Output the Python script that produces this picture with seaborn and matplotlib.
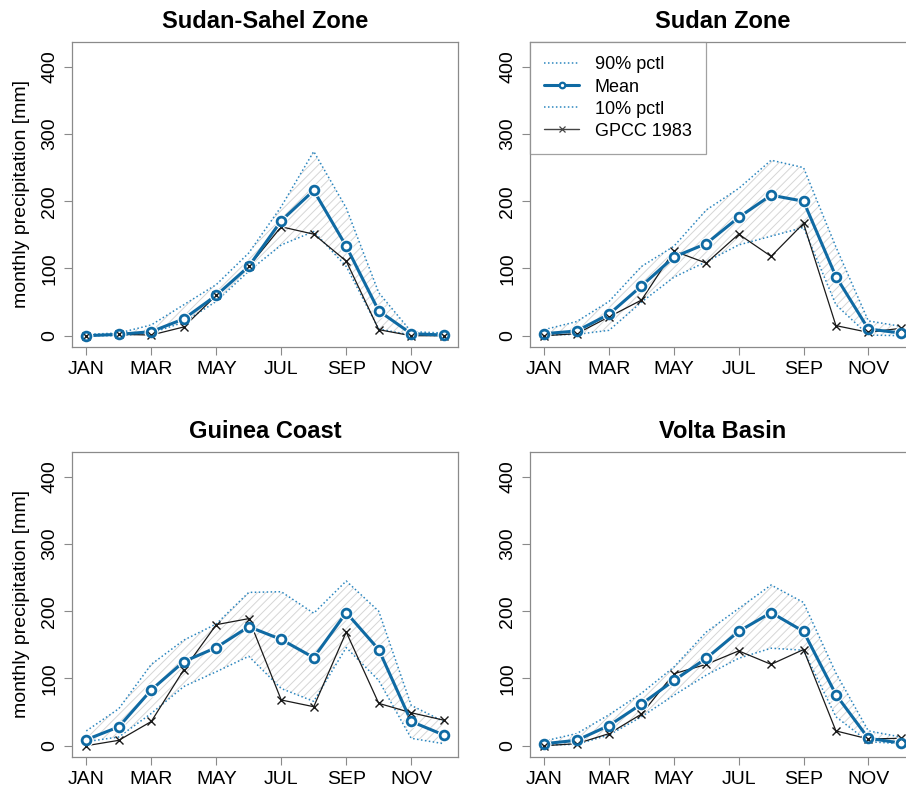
import numpy as np
import pandas as pd
import matplotlib
matplotlib.use("Agg")
import matplotlib.pyplot as plt
from matplotlib.lines import Line2D
import seaborn as sns

months = ["JAN", "FEB", "MAR", "APR", "MAY", "JUN", "JUL", "AUG", "SEP", "OCT", "NOV", "DEC"]
tick_months = ["JAN", "MAR", "MAY", "JUL", "SEP", "NOV"]
yticks = [0, 100, 200, 300, 400]

titles = ["Sudan-Sahel Zone", "Sudan Zone", "Guinea Coast", "Volta Basin"]

# Sudan-Sahel Zone
ss_mean = [0, 2, 6, 25, 60, 103, 171, 216, 133, 37, 3, 1]
ss_gpcc = [0, 2, 1, 13, 60, 103, 162, 151, 111, 9, 0, 0]
ss_p90 = [2, 4, 16, 46, 76, 123, 192, 274, 190, 64, 6, 4]
ss_p10 = [0, 0, 4, 20, 51, 96, 135, 155, 103, 10, 1, 0]

# Sudan Zone
sz_mean = [3, 7, 32, 74, 117, 137, 176, 209, 200, 88, 10, 4]
sz_gpcc = [0, 3, 28, 53, 126, 108, 151, 118, 167, 15, 5, 11]
sz_p90 = [9, 21, 51, 103, 133, 187, 219, 261, 250, 132, 22, 14]
sz_p10 = [1, 2, 8, 50, 87, 110, 135, 148, 161, 46, 1, 0]

# Guinea Coast
gc_mean = [9, 28, 83, 125, 146, 177, 158, 131, 198, 143, 36, 16]
gc_gpcc = [0, 8, 36, 113, 180, 189, 68, 58, 169, 63, 49, 38]
gc_p90 = [22, 55, 121, 157, 181, 228, 229, 197, 245, 200, 60, 36]
gc_p10 = [6, 13, 48, 88, 110, 133, 85, 66, 146, 97, 11, 3]

# Volta Basin
vb_mean = [3, 8, 30, 62, 97, 130, 170, 198, 170, 76, 11, 4]
vb_gpcc = [0, 3, 18, 47, 107, 121, 141, 121, 143, 22, 10, 11]
vb_p90 = [7, 18, 46, 78, 117, 169, 204, 239, 213, 108, 22, 13]
vb_p10 = [1, 2, 16, 43, 75, 105, 130, 145, 142, 43, 6, 3]

panels = [
    (ss_mean, ss_gpcc, ss_p90, ss_p10),
    (sz_mean, sz_gpcc, sz_p90, sz_p10),
    (gc_mean, gc_gpcc, gc_p90, gc_p10),
    (vb_mean, vb_gpcc, vb_p90, vb_p10),
]

sns.set_theme(style="white")
plt.rcParams["font.family"] = ["Liberation Sans", "DejaVu Sans"]
plt.rcParams["hatch.color"] = "#d6d6d6"
plt.rcParams["hatch.linewidth"] = 0.7
for k in ["text.color", "axes.labelcolor", "xtick.color", "ytick.color", "axes.titlecolor"]:
    plt.rcParams[k] = "black"

MEAN_C = "#0f6aa3"
PCT_C = "#2b86bf"
GPCC_C = "#1a1a1a"
SPINE_C = "#8a8a8a"
DOT = (0, (1.0, 1.6))

W, H = 906, 787
fig = plt.figure(figsize=(W / 100, H / 100), dpi=100)

# axes boxes in pixels: left, top, right, bottom
boxes = [
    (72, 42, 458, 347),
    (530, 42, 915, 347),
    (72, 452, 458, 757),
    (530, 452, 915, 757),
]

x = np.arange(12)

for i, (box, data, title) in enumerate(zip(boxes, panels, titles)):
    l, t, r, b = box
    ax = fig.add_axes([l / W, 1 - b / H, (r - l) / W, (b - t) / H])
    mean, gpcc, p90, p10 = data
    df = pd.DataFrame({"month": x, "mean": mean, "gpcc": gpcc, "p90": p90, "p10": p10})

    ax.fill_between(df["month"], df["p10"], df["p90"], facecolor="none",
                    edgecolor="#d6d6d6", hatch="////", linewidth=0, zorder=1)

    sns.lineplot(data=df, x="month", y="p90", ax=ax, color=PCT_C, linestyle=DOT,
                 linewidth=1.1, zorder=2)
    sns.lineplot(data=df, x="month", y="p10", ax=ax, color=PCT_C, linestyle=DOT,
                 linewidth=1.1, zorder=2)
    sns.lineplot(data=df, x="month", y="gpcc", ax=ax, color=GPCC_C, linewidth=0.9,
                 zorder=3)
    sns.lineplot(data=df, x="month", y="mean", ax=ax, color=MEAN_C, linewidth=2.2,
                 zorder=4)
    # gap around mean points (R type="b")
    ax.plot(df["month"], df["mean"], linestyle="none", marker="o", markersize=10,
            markerfacecolor="white", markeredgecolor="white", markeredgewidth=0, zorder=5)
    sns.lineplot(data=df, x="month", y="gpcc", ax=ax, color=GPCC_C, linewidth=0,
                 marker="x", markersize=6, markeredgewidth=1.0, markeredgecolor=GPCC_C,
                 zorder=6)
    ax.plot(df["month"], df["mean"], linestyle="none", marker="o", markersize=6.3,
            markerfacecolor="none", markeredgecolor=MEAN_C, markeredgewidth=2.0, zorder=7)

    ax.set_xlim(-0.44, 11.44)
    ax.set_ylim(-16.8, 436.8)
    ax.set_xticks([0, 2, 4, 6, 8, 10])
    ax.set_xticklabels(tick_months, fontsize=14)
    ax.set_yticks(yticks)
    ax.set_yticklabels([str(v) for v in yticks], fontsize=14, rotation=90, va="center")
    ax.tick_params(axis="both", which="both", direction="out", length=6, width=0.8,
                   color=SPINE_C, labelcolor="black", bottom=True, left=True)
    ax.tick_params(axis="x", pad=4)
    ax.tick_params(axis="y", pad=4)
    for s in ax.spines.values():
        s.set_color(SPINE_C)
        s.set_linewidth(0.9)
        s.set_visible(True)
    ax.set_xlabel("")
    if i % 2 == 0:
        ax.set_ylabel("monthly precipitation [mm]", fontsize=14, labelpad=8, color="black")
    else:
        ax.set_ylabel("")
    ax.set_title(title, fontsize=17, fontweight="bold", pad=10, color="black")

    if i == 1:
        handles = [
            Line2D([], [], color=PCT_C, linestyle=DOT, linewidth=1.1),
            Line2D([], [], color=MEAN_C, linewidth=2.2, marker="o", markersize=4,
                   markerfacecolor="white", markeredgewidth=1.6),
            Line2D([], [], color=PCT_C, linestyle=DOT, linewidth=1.1),
            Line2D([], [], color="#444444", linewidth=1.0, marker="x", markersize=4,
                   markeredgewidth=0.9),
        ]
        labels = ["90% pctl", "Mean", "10% pctl", "GPCC 1983"]
        leg = ax.legend(handles, labels, loc="upper left", bbox_to_anchor=(0, 1),
                        borderaxespad=0, fontsize=13, frameon=True, fancybox=False,
                        handlelength=1.9, handletextpad=0.9, borderpad=0.8,
                        labelspacing=0.28)
        leg.get_frame().set_edgecolor(SPINE_C)
        leg.get_frame().set_linewidth(0.9)
        for txt in leg.get_texts():
            txt.set_color("black")

fig.savefig("out.png", dpi=100)
